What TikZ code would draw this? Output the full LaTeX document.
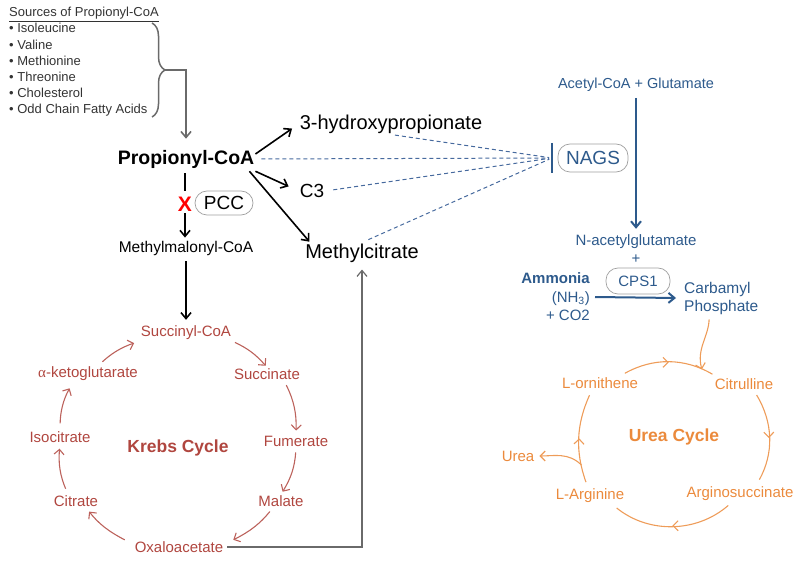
\documentclass[tikz,border=0pt]{standalone}
\usepackage{fontspec}
\setmainfont{Liberation Sans}
\newfontfamily\greekserif{Liberation Serif}
\usetikzlibrary{arrows.meta,positioning,calc,decorations.pathreplacing,decorations.markings}

\definecolor{krebsred}{HTML}{B0463F}
\definecolor{ureaorange}{HTML}{EB8A3C}
\definecolor{ureablue}{HTML}{2D5A8C}
\definecolor{dashblue}{HTML}{476A9E}
\definecolor{linegray}{HTML}{6A6A6A}

\newcommand{\fsz}[1]{\fontsize{#1}{#1}\selectfont}

\begin{document}
\begin{tikzpicture}[x=1pt,y=-1pt,
        every node/.style={inner sep=1pt},
        mol/.style={font=\fsz{20}},
        krebs/.style={font=\fsz{15}, text=krebsred},
        urea/.style={font=\fsz{15}, text=ureaorange},
        blu/.style={font=\fsz{15}, text=ureablue},
        pill/.style={draw=gray!75, line width=0.7pt, rounded corners=12pt, inner sep=0pt},
        blkarr/.style={line width=1.6pt, -{Straight Barb[length=6pt,width=10pt]}},
        srcarr/.style={draw=linegray, line width=1.6pt, -{Straight Barb[length=6pt,width=10pt]}},
        inhib/.style={draw=dashblue, line width=1pt, dash pattern=on 4pt off 3pt},
        kcyc/.style={draw=krebsred!85, line width=1.1pt, -{Straight Barb[length=5pt,width=10pt]}},
        ucyc/.style={draw=ureaorange!85, line width=1.1pt, decoration={markings, mark=at position 0.5 with {\arrow{Straight Barb[length=5pt,width=10pt]}}}, postaction={decorate}}
    ]
        \useasboundingbox (0,0) rectangle (800,561);

        % sources
        \node[anchor=north west, align=left, font=\fontsize{13}{16.2}\selectfont, text=black!80] (srclist) at (8,6)
            {\underline{Sources of Propionyl-CoA}\\
             \textbullet\ Isoleucine\\ \textbullet\ Valine\\ \textbullet\ Methionine\\
             \textbullet\ Threonine\\ \textbullet\ Cholesterol\\ \textbullet\ Odd Chain Fatty Acids};
        \coordinate (brtop) at (152,23);
        \coordinate (brbot) at (152,117);
        \coordinate (brtip) at (165,70);
        \draw[draw=linegray, line width=1.5pt, decorate, decoration={brace, amplitude=13pt}] (brtop) -- (brbot);

        % propionyl-CoA branch
        \node[font=\bfseries\fsz{19.5}] (propcoa) at (186,159) {Propionyl-CoA};
        \node[font=\bfseries\fsz{21}, text=red] (xmark) at (185,204) {X};
        \node[pill, minimum width=58pt, minimum height=24pt, font=\fsz{19}] (pcc) at (224,203) {PCC};
        \node[font=\fsz{15.5}] (mmcoa) at (186,248) {Methylmalonyl-CoA};
        \node[mol] (hydroxy) at (391,124) {3-hydroxypropionate};
        \node[mol, font=\fsz{19}] (cthree) at (312,191) {C3};
        \node[mol] (mcit) at (362,253) {Methylcitrate};

        \draw[srcarr, shorten >=10pt] (brtip) -| (propcoa.north);
        \draw[line width=1.6pt, shorten <=4pt, shorten >=5pt] (propcoa.south -| xmark) -- (xmark);
        \draw[blkarr, shorten <=1pt, shorten >=2pt] (xmark.south) -- (mmcoa.north -| xmark);
        \draw[blkarr, shorten >=8pt] ([yshift=5pt]propcoa.east) -- (hydroxy.west);
        \draw[blkarr, shorten >=11pt] ([yshift=-2pt]propcoa.south east) -- (cthree.west);
        \draw[blkarr, shorten >=1pt] ([xshift=-6pt, yshift=-2pt]propcoa.south east) -- ([xshift=6pt]mcit.north west);

        % NAGS and urea cycle input
        \node[blu, font=\fsz{14.5}] (acgl) at (636,85) {Acetyl-CoA + Glutamate};
        \node[pill, minimum width=70pt, minimum height=28pt, font=\fsz{19}, text=ureablue] (nags) at (593,158) {NAGS};
        \coordinate (inhib) at (552,158);
        \node[blu] (nag) at (636,242) {N-acetylglutamate};
        \node[blu] (plus) at (636,259) {+};
        \node[pill, minimum width=64pt, minimum height=26pt, text=ureablue, font=\fsz{15}] (cps) at (638,281) {CPS1};
        \node[blu, anchor=east, align=right, font=\fontsize{15}{18.5}\selectfont] (ammo) at (591,297)
            {\textbf{Ammonia}\\ (NH\textsubscript{3})\\ + CO2};
        \node[blu, anchor=west, align=left, font=\fontsize{15.5}{18}\selectfont] (carb) at (683,298) {Carbamyl\\ Phosphate};

        \draw[inhib, shorten >=3pt, shorten <=6pt] (propcoa.east) -- (inhib);
        \draw[inhib, shorten >=3pt, shorten <=4pt] (hydroxy.south) -- (inhib);
        \draw[inhib, shorten >=3pt, shorten <=8pt] (cthree.east) -- (inhib);
        \draw[inhib, shorten >=3pt, shorten <=7pt] (mcit.north) -- (inhib);
        \draw[draw=ureablue, line width=1.6pt] ([yshift=15pt]inhib) -- ([yshift=-15pt]inhib);
        \draw[draw=ureablue, line width=2pt, -{Straight Barb[length=6pt,width=10pt]}, shorten <=5pt, shorten >=5pt] (acgl.south) -- (nag.north);
        \draw[draw=ureablue, line width=2pt, -{Straight Barb[length=6pt,width=10pt]}] ([xshift=4pt]ammo.east) -- ([xshift=-7pt]carb.west);

        % Krebs cycle
        \node[krebs] (succoa) at (186,333) {Succinyl-CoA};
        \node[krebs] (succ) at (267,374) {Succinate};
        \node[krebs] (fum) at (296,441) {Fumerate};
        \node[krebs] (mal) at (281,501) {Malate};
        \node[krebs] (oxa) at (179,547) {Oxaloacetate};
        \node[krebs] (cit) at (76,501) {Citrate};
        \node[krebs] (isoc) at (60,437) {Isocitrate};
        \node[krebs] (akg) at (88,374) {{\greekserif α}-ketoglutarate};
        \node[krebs, font=\bfseries\fsz{17.5}] (krebsname) at (178,448) {Krebs Cycle};

        \draw[blkarr, shorten <=5pt, shorten >=5pt] (mmcoa.south) -- (succoa.north);
        \draw[kcyc, shorten <=3pt, shorten >=2pt] (succoa.south east) to[bend left=12] (succ.north);
        \draw[kcyc, shorten <=5pt, shorten >=4pt] ($(succ.south)!0.5!(succ.south east)$) to[bend left=14] (fum.north);
        \draw[kcyc, shorten <=5pt, shorten >=3pt] (fum.south) to[bend left=14] (mal.north);
        \draw[kcyc, shorten <=5pt, shorten >=1pt] ([xshift=-8pt]mal.south) to[bend left=12] ([xshift=8pt]oxa.north east);
        \draw[kcyc, shorten <=1pt, shorten >=5pt] ([xshift=-8pt]oxa.north west) to[bend left=12] ([xshift=10pt]cit.south);
        \draw[kcyc, shorten <=6pt, shorten >=5pt] ([xshift=-8pt]cit.north) to[bend left=14] (isoc.south);
        \draw[kcyc, shorten <=7pt, shorten >=7pt] (isoc.north) to[bend left=14] ([xshift=-15pt]akg.south);
        \draw[kcyc, shorten <=6pt, shorten >=6pt] ([xshift=10pt]akg.north) to[bend left=12] (succoa.south west);
        \draw[draw=linegray, line width=1.2pt, -{Straight Barb[length=6pt,width=10pt]}, shorten <=3pt, shorten >=6pt] (oxa.east) -| (mcit.south);

        % urea cycle
        \node[urea] (lorn) at (600,383) {L-ornithene};
        \node[urea] (citr) at (744,384) {Citrulline};
        \node[urea] (argsuc) at (740,494) {Arginosuccinate};
        \node[urea] (larg) at (590,496) {L-Arginine};
        \node[urea] (ureaout) at (518,456) {Urea};
        \node[urea, font=\bfseries\fsz{17.5}] (ureaname) at (674,437) {Urea Cycle};

        \draw[ucyc, shorten <=6pt, shorten >=6pt] ($(lorn.north)!0.5!(lorn.north east)$) to[bend left=30] coordinate[pos=0.84] (cpin) ([xshift=4pt]citr.north west);
        \draw[ucyc, shorten <=5pt, shorten >=7pt] ([xshift=10pt]citr.south) to[bend left=30] ([xshift=16pt]argsuc.north);
        \draw[ucyc, shorten <=5pt, shorten >=6pt] ([xshift=-8pt]argsuc.south) to[bend left=40] ([xshift=22pt]larg.south);
        \draw[ucyc, shorten <=6pt, shorten >=6pt] ([xshift=-2pt]larg.north) to[bend left=22] coordinate[pos=0.22] (ubr) ([xshift=-8pt]lorn.south);
        \draw[draw=ureaorange!85, line width=1.1pt, -{Straight Barb[length=5pt,width=10pt]}, shorten >=4pt] (ubr) to[out=135, in=0] (ureaout.east);
        \draw[draw=ureaorange!85, line width=1.1pt, -{Straight Barb[length=5pt,width=10pt]}, shorten <=4pt] ([xshift=-12pt]carb.south) to[out=-92, in=105] (cpin);
    \end{tikzpicture}
\end{document}
